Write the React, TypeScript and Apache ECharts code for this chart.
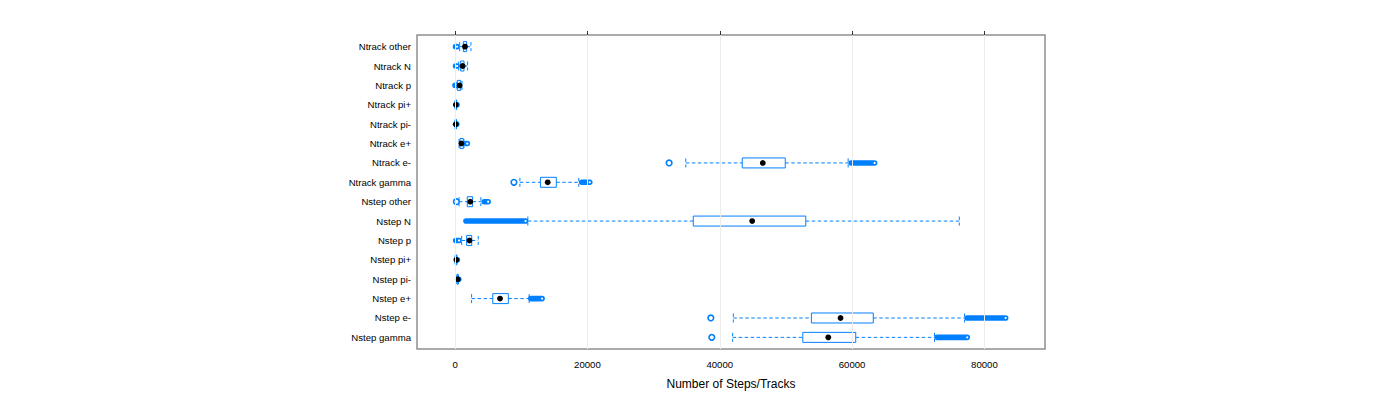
import React, { useEffect, useRef } from "react";
import * as echarts from "echarts";

const categories = [
  "Ntrack other", "Ntrack N", "Ntrack p", "Ntrack pi+", "Ntrack pi-", "Ntrack e+", "Ntrack e-", "Ntrack gamma",
  "Nstep other", "Nstep N", "Nstep p", "Nstep pi+", "Nstep pi-", "Nstep e+", "Nstep e-", "Nstep gamma",
];
const lowerWhisker = [700, 550, 100, 0, 0, 600, 34870, 9800, 600, 11000, 1000, 0, 150, 2500, 42050, 41950];
const q1 = [1250, 850, 350, 50, 40, 750, 43400, 12900, 1850, 36000, 1750, 60, 300, 5700, 53850, 52550];
const medians = [1500, 1150, 700, 120, 100, 950, 46500, 14000, 2300, 44900, 2180, 200, 400, 6800, 58250, 56400];
const q3 = [1750, 1350, 850, 200, 180, 1250, 49900, 15300, 2650, 53000, 2520, 250, 480, 8050, 63200, 60550];
const upperWhisker = [2400, 1900, 1050, 250, 220, 1350, 59400, 18700, 3900, 76200, 3500, 280, 520, 11200, 77000, 72450];
// dense runs of outliers: [start, end] or null
const lowOutlierRuns: (number[] | null)[] = [
  [80, 300], [80, 300], [0, 200], null, null, null, null, null,
  null, [1650, 10650], [100, 600], null, null, null, null, null,
];
const highOutlierRuns: (number[] | null)[] = [
  null, null, null, [260, 300], [240, 260], [1650, 1850], [59850, 63400], [19150, 20350],
  [4400, 5000], null, null, [300, 350], [540, 560], [11450, 13150], [77400, 83200], [72850, 77400],
];
const isolatedOutliers: [string, number][] = [
  ["Ntrack e-", 32350],
  ["Ntrack gamma", 8900],
  ["Nstep other", 200],
  ["Nstep e-", 38650],
  ["Nstep gamma", 38800],
];
const xTicks = [0, 20000, 40000, 60000, 80000];
const xLimits = [-5750, 89150];

const BLUE = "#0080ff";
const FONT = "'Liberation Sans', Arial, Helvetica, sans-serif";

export default function App() {
  const ref = useRef<HTMLDivElement>(null);
  useEffect(() => {
    document.body.style.margin = "0";
    if (!ref.current) return;
    const chart = echarts.init(ref.current, null, { renderer: "svg" });

    const boxData = categories.map((_, i) => [i, lowerWhisker[i], q1[i], medians[i], q3[i], upperWhisker[i]]);
    const runData: number[][] = [];
    categories.forEach((_, i) => {
      const lo = lowOutlierRuns[i];
      const hi = highOutlierRuns[i];
      if (lo) runData.push([i, lo[0], lo[1]]);
      if (hi) runData.push([i, hi[0], hi[1]]);
    });
    const pointData = isolatedOutliers.map(([c, v]) => [v, categories.indexOf(c)]);

    const dash = [3.5, 2.5];
    const renderBox = (params: any, api: any) => {
      const idx = api.value(0);
      const pLw = api.coord([api.value(1), idx]);
      const pQ1 = api.coord([api.value(2), idx]);
      const pMed = api.coord([api.value(3), idx]);
      const pQ3 = api.coord([api.value(4), idx]);
      const pUw = api.coord([api.value(5), idx]);
      const y = pMed[1];
      const hb = 5;
      const hs = 4.5;
      const lineStyle = { stroke: BLUE, lineWidth: 1, lineDash: dash, fill: null };
      return {
        type: "group",
        children: [
          { type: "line", shape: { x1: pLw[0], y1: y, x2: pQ1[0], y2: y }, style: lineStyle },
          { type: "line", shape: { x1: pQ3[0], y1: y, x2: pUw[0], y2: y }, style: lineStyle },
          { type: "line", shape: { x1: pLw[0], y1: y - hs, x2: pLw[0], y2: y + hs }, style: lineStyle },
          { type: "line", shape: { x1: pUw[0], y1: y - hs, x2: pUw[0], y2: y + hs }, style: lineStyle },
          {
            type: "rect",
            shape: { x: pQ1[0], y: y - hb, width: Math.max(pQ3[0] - pQ1[0], 0.5), height: hb * 2 },
            style: { stroke: BLUE, lineWidth: 1, fill: "rgba(255,255,255,0)" },
          },
          { type: "circle", shape: { cx: pMed[0], cy: y, r: 2.9 }, style: { fill: "#000", stroke: null } },
        ],
      };
    };

    const renderRun = (params: any, api: any) => {
      const idx = api.value(0);
      const a = api.coord([api.value(1), idx]);
      const b = api.coord([api.value(2), idx]);
      return {
        type: "group",
        children: [
          {
            type: "line",
            shape: { x1: a[0], y1: a[1], x2: b[0], y2: b[1] },
            style: { stroke: BLUE, lineWidth: 5.6, lineCap: "round", fill: null },
          },
          { type: "circle", shape: { cx: b[0], cy: b[1], r: 1.1 }, style: { fill: "#fff", stroke: null } },
        ],
      };
    };

    chart.setOption({
      animation: false,
      grid: {
        left: 417,
        top: 35,
        width: 628,
        height: 314,
        show: true,
        borderColor: "#8f8f8f",
        borderWidth: 1.5,
        backgroundColor: "transparent",
      },
      xAxis: [
        {
          type: "value",
          min: xLimits[0],
          max: xLimits[1],
          position: "bottom",
          axisLine: { show: false },
          splitLine: { show: false },
          axisTick: { show: true, length: 4, customValues: xTicks, lineStyle: { color: "#333", width: 1 } },
          axisLabel: {
            show: true,
            customValues: xTicks,
            margin: 10,
            fontSize: 9.6,
            color: "#000",
            fontFamily: FONT,
            formatter: (v: number) => String(v),
          },
          name: "Number of Steps/Tracks",
          nameLocation: "middle",
          nameGap: 29,
          nameTextStyle: { fontSize: 12, color: "#000", fontFamily: FONT },
        },
        {
          type: "value",
          min: xLimits[0],
          max: xLimits[1],
          position: "top",
          axisLine: { show: false },
          splitLine: { show: false },
          axisTick: { show: true, length: 4, customValues: xTicks, lineStyle: { color: "#333", width: 1 } },
          axisLabel: { show: false },
        },
      ],
      yAxis: {
        type: "value",
        min: -0.6,
        max: categories.length - 0.4,
        inverse: true,
        axisLine: { show: false },
        axisTick: { show: false },
        splitLine: { show: false },
        axisLabel: {
          show: true,
          customValues: categories.map((_, i) => i),
          margin: 6,
          fontSize: 9.6,
          color: "#000",
          fontFamily: FONT,
          formatter: (v: number) => categories[Math.round(v)] ?? "",
        },
      },
      series: [
        {
          type: "custom",
          name: "grid",
          xAxisIndex: 0,
          data: [],
          renderItem: () => null,
          markLine: {
            silent: true,
            symbol: ["none", "none"],
            label: { show: false },
            lineStyle: { color: "#ececec", type: "solid", width: 1 },
            data: xTicks.map((v) => ({ xAxis: v })),
          },
          z: 0,
        },
        {
          type: "custom",
          name: "outlierRuns",
          renderItem: renderRun,
          data: runData,
          encode: { x: [1, 2], y: 0 },
          z: 2,
        },
        {
          type: "scatter",
          name: "outliers",
          data: pointData,
          symbol: "circle",
          symbolSize: 5.6,
          itemStyle: { color: "#fff", borderColor: BLUE, borderWidth: 1.6, opacity: 1 },
          z: 2,
        },
        {
          type: "custom",
          name: "boxes",
          renderItem: renderBox,
          data: boxData,
          encode: { x: [1, 2, 3, 4, 5], y: 0 },
          z: 3,
        },
      ],
    });
    return () => chart.dispose();
  }, []);
  return <div ref={ref} style={{ width: 1400, height: 400 }} />;
}
